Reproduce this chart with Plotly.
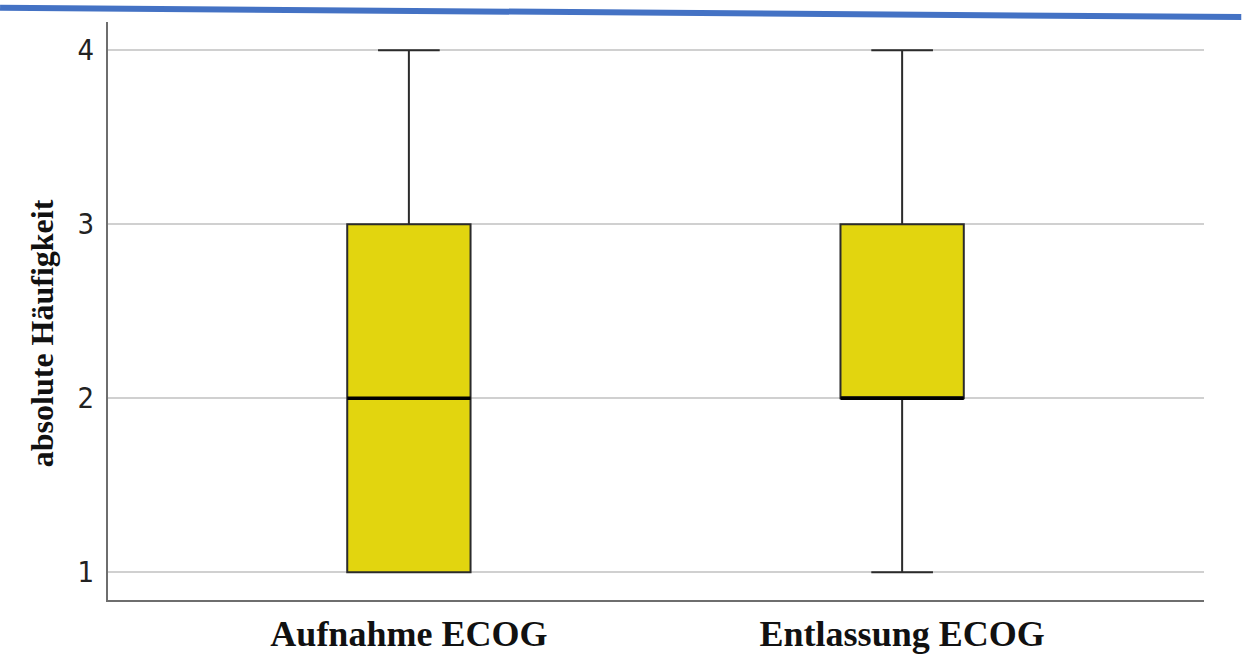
import plotly.graph_objects as go

# ECOG score distribution at admission and discharge (five-number summaries)
categories = ["Aufnahme ECOG", "Entlassung ECOG"]
positions = [0, 1]
minimum = [1, 1]
q1 = [1, 2]
median = [2, 2]
q3 = [3, 3]
maximum = [4, 4]
y_ticks = [1, 2, 3, 4]
y_title = "absolute Häufigkeit"

box_width = 0.25
fill_yellow = "#E2D50F"
edge = "#2b2b2b"
serif_bold = "Liberation Serif, Times New Roman, serif"

fig = go.Figure()

for i, name in enumerate(categories):
    fig.add_trace(go.Box(
        x=[positions[i]],
        lowerfence=[minimum[i]],
        q1=[q1[i]],
        median=[median[i]],
        q3=[q3[i]],
        upperfence=[maximum[i]],
        width=box_width,
        whiskerwidth=0.5,
        fillcolor=fill_yellow,
        line=dict(color=edge, width=2),
        boxpoints=False,
        name=name,
        showlegend=False,
        hoverinfo="skip",
    ))
    # heavier median stroke across the box
    fig.add_trace(go.Scatter(
        x=[positions[i] - box_width / 2, positions[i] + box_width / 2],
        y=[median[i], median[i]],
        mode="lines",
        line=dict(color="#000000", width=3.5),
        showlegend=False,
        hoverinfo="skip",
    ))

fig.update_layout(
    width=1242,
    height=657,
    margin=dict(l=108, r=38, t=22, b=57, autoexpand=False),
    paper_bgcolor="white",
    plot_bgcolor="white",
    showlegend=False,
    shapes=[
        # blue rule across the top of the page
        dict(type="line", xref="paper", yref="paper",
             x0=-0.0985, x1=1.034, y0=1.0245, y1=1.0085,
             line=dict(color="#4472C4", width=6)),
    ],
    annotations=[
        dict(text=y_title, textangle=-90, showarrow=False,
             xref="paper", yref="paper", x=-0.060, y=0.462,
             xanchor="center", yanchor="middle",
             font=dict(family=serif_bold, size=32, color="#111111", weight="bold")),
    ],
)

fig.update_xaxes(
    range=[-0.61, 1.612],
    tickvals=positions,
    ticktext=categories,
    automargin=False,
    showgrid=False,
    zeroline=False,
    showline=True,
    linecolor="#6e6e6e",
    linewidth=2,
    ticks="",
    ticklabelstandoff=1,
    tickfont=dict(family=serif_bold, size=36, color="#111111", weight="bold"),
)

fig.update_yaxes(
    range=[0.84, 4.162],
    tickvals=y_ticks,
    ticktext=[str(v) for v in y_ticks],
    automargin=False,
    showgrid=True,
    gridcolor="#d0d0d0",
    gridwidth=2,
    zeroline=False,
    showline=True,
    linecolor="#6e6e6e",
    linewidth=2,
    ticks="",
    ticklabelstandoff=6,
    tickfont=dict(family="Liberation Sans Narrow, DejaVu Sans Condensed, sans-serif",
                  size=29, color="#222222"),
)

fig.write_html("out.html")
